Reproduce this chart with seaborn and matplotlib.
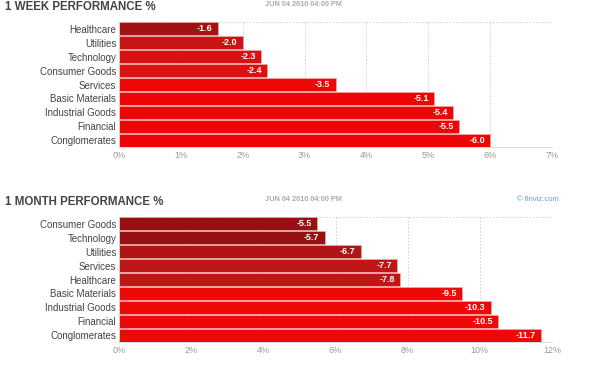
import numpy as np
import pandas as pd
import matplotlib
matplotlib.use("Agg")
import matplotlib.pyplot as plt
import seaborn as sns

# 1 week performance (%)
week_sectors = ["Healthcare", "Utilities", "Technology", "Consumer Goods", "Services",
                "Basic Materials", "Industrial Goods", "Financial", "Conglomerates"]
week_values = [-1.6, -2.0, -2.3, -2.4, -3.5, -5.1, -5.4, -5.5, -6.0]
week_colors = ["#a31212", "#c81414", "#d81212", "#dc1111", "#ec0808",
               "#ee0606", "#ee0606", "#ee0606", "#ee0606"]
week_ticks = [0, 1, 2, 3, 4, 5, 6, 7]

# 1 month performance (%)
month_sectors = ["Consumer Goods", "Technology", "Utilities", "Services", "Healthcare",
                 "Basic Materials", "Industrial Goods", "Financial", "Conglomerates"]
month_values = [-5.5, -5.7, -6.7, -7.7, -7.8, -9.5, -10.3, -10.5, -11.7]
month_colors = ["#961212", "#961212", "#b01414", "#c01616", "#c01616",
                "#ee0808", "#ee0808", "#ee0808", "#ee0808"]
month_ticks = [0, 2, 4, 6, 8, 10, 12]

stamp = "JUN 04 2010 04:00 PM"

sns.set_style("white")
plt.rcParams["font.family"] = ["Liberation Sans", "DejaVu Sans"]

fig = plt.figure(figsize=(6, 3.69), dpi=100)


def draw_panel(rect, sectors, values, colors, ticks, title, title_y):
    ax = fig.add_axes(rect)
    df = pd.DataFrame({"sector": sectors, "loss": [-v for v in values]})
    sns.barplot(data=df, x="loss", y="sector", hue="sector", palette=colors,
                saturation=1, orient="h", width=0.94, edgecolor="#f6b0b0",
                linewidth=0.4, legend=False, ax=ax)
    ax.set_xlim(ticks[0], ticks[-1])
    ax.set_ylim(len(sectors) - 0.5, -0.5)
    ax.set_xticks(ticks)
    ax.set_xticklabels([f"{t}%" for t in ticks], fontsize=6.5, color="#999999")
    ax.tick_params(axis="y", labelsize=7, labelcolor="#444444", length=0, pad=2)
    ax.tick_params(axis="x", length=0, pad=3)
    ax.set_xlabel("")
    ax.set_ylabel("")
    for t in ticks[1:]:
        ax.axvline(t, color="#cccccc", lw=0.6, ls=(0, (2, 2)), zorder=0)
    ax.axhline(-0.5, color="#cccccc", lw=0.6, ls=(0, (2, 2)), zorder=0)
    for side in ["top", "right"]:
        ax.spines[side].set_visible(False)
    ax.spines["left"].set_color("#cfd6e0")
    ax.spines["bottom"].set_color("#cfd6e0")
    ax.spines["left"].set_linewidth(0.6)
    ax.spines["bottom"].set_linewidth(0.6)
    for i, v in enumerate(values):
        ax.text(-v - 0.012 * ticks[-1], i, f"{v:.1f}", ha="right", va="center",
                fontsize=6.5, fontweight="bold", color="white")
    fig.text(5 / 600, title_y, title, fontsize=8.3, fontweight="bold",
             color="#444444", va="center", ha="left")
    fig.text(265 / 600, title_y + 0.008, stamp, fontsize=5.3, fontweight="bold",
             color="#aaaaaa", va="center", ha="left")
    return ax


draw_panel([119 / 600, 1 - 147 / 369, 433 / 600, 125 / 369], week_sectors,
           week_values, week_colors, week_ticks, "1 WEEK PERFORMANCE %", 1 - 7 / 369)
draw_panel([119 / 600, 1 - 342 / 369, 433 / 600, 125 / 369], month_sectors,
           month_values, month_colors, month_ticks, "1 MONTH PERFORMANCE %", 1 - 202 / 369)
fig.text(517 / 600, 1 - 200 / 369, "\u00a9 finviz.com", fontsize=5.5,
         color="#6a9ac8", va="center", ha="left")

fig.savefig("out.png", dpi=100, facecolor="white")
